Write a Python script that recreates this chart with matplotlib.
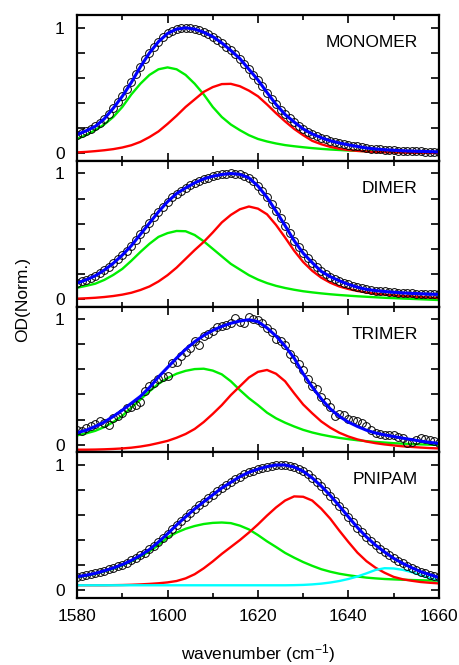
import matplotlib
matplotlib.use("Agg")
import matplotlib.pyplot as plt
import numpy as np
from matplotlib.ticker import MultipleLocator, FuncFormatter

plt.rcParams['font.family'] = ['Liberation Sans', 'DejaVu Sans']
plt.rcParams['font.size'] = 12.5
plt.rcParams['mathtext.default'] = 'regular'

# measured points every 1 cm-1, fit and components every 2 cm-1
wn_data = np.arange(1580, 1661, 1)
wn_fit = np.arange(1580, 1661, 2)

monomer_data = [0.15, 0.165, 0.18, 0.197, 0.215, 0.243, 0.275, 0.316, 0.36, 0.407,
                0.455, 0.51, 0.565, 0.63, 0.69, 0.748, 0.80, 0.848, 0.89, 0.925,
                0.955, 0.975, 0.99, 0.997, 1.0, 0.997, 0.99, 0.979, 0.965, 0.948,
                0.93, 0.906, 0.88, 0.851, 0.82, 0.789, 0.755, 0.714, 0.67, 0.628,
                0.585, 0.535, 0.485, 0.436, 0.39, 0.348, 0.31, 0.278, 0.25, 0.221,
                0.195, 0.174, 0.155, 0.139, 0.125, 0.112, 0.10, 0.091, 0.083, 0.075,
                0.068, 0.061, 0.055, 0.049, 0.043, 0.039, 0.035, 0.032, 0.029, 0.027,
                0.025, 0.023, 0.021, 0.019, 0.018, 0.017, 0.016, 0.015, 0.014, 0.013,
                0.012]
monomer_fit = [0.15, 0.18, 0.215, 0.275, 0.36, 0.455, 0.565, 0.69, 0.80, 0.89,
               0.955, 0.99, 1.0, 0.99, 0.965, 0.93, 0.88, 0.82, 0.755, 0.67,
               0.585, 0.485, 0.39, 0.31, 0.25, 0.195, 0.155, 0.125, 0.10, 0.083,
               0.068, 0.055, 0.043, 0.035, 0.029, 0.025, 0.021, 0.018, 0.016, 0.014,
               0.012]
monomer_green = [0.115, 0.145, 0.185, 0.23, 0.29, 0.37, 0.47, 0.555, 0.625, 0.67,
                 0.685, 0.67, 0.625, 0.555, 0.47, 0.37, 0.29, 0.23, 0.185, 0.145,
                 0.115, 0.095, 0.079, 0.066, 0.057, 0.049, 0.042, 0.036, 0.031, 0.027,
                 0.023, 0.02, 0.018, 0.016, 0.014, 0.013, 0.012, 0.011, 0.01, 0.009,
                 0.008]
monomer_red = [0.008, 0.012, 0.018, 0.025, 0.034, 0.047, 0.065, 0.092, 0.13, 0.175,
               0.235, 0.30, 0.37, 0.43, 0.49, 0.528, 0.552, 0.554, 0.535, 0.50,
               0.455, 0.39, 0.32, 0.255, 0.195, 0.145, 0.10, 0.073, 0.052, 0.037,
               0.027, 0.02, 0.015, 0.011, 0.009, 0.007, 0.006, 0.005, 0.004, 0.004,
               0.003]

dimer_data = [0.127, 0.14, 0.153, 0.168, 0.185, 0.206, 0.23, 0.256, 0.285, 0.316,
              0.35, 0.386, 0.425, 0.469, 0.515, 0.56, 0.605, 0.65, 0.695, 0.737,
              0.775, 0.81, 0.84, 0.863, 0.885, 0.906, 0.925, 0.942, 0.957, 0.968,
              0.978, 0.986, 0.992, 0.997, 1.0, 0.998, 0.993, 0.981, 0.965, 0.937,
              0.90, 0.857, 0.81, 0.757, 0.70, 0.643, 0.585, 0.524, 0.465, 0.413,
              0.365, 0.326, 0.29, 0.254, 0.22, 0.198, 0.178, 0.161, 0.145, 0.131,
              0.117, 0.105, 0.094, 0.085, 0.077, 0.072, 0.067, 0.063, 0.06, 0.057,
              0.054, 0.051, 0.049, 0.047, 0.045, 0.043, 0.042, 0.04, 0.039, 0.038,
              0.037]
dimer_fit = [0.127, 0.153, 0.185, 0.23, 0.285, 0.35, 0.425, 0.515, 0.605, 0.695,
             0.775, 0.84, 0.885, 0.925, 0.957, 0.978, 0.992, 1.0, 0.993, 0.965,
             0.90, 0.81, 0.70, 0.585, 0.465, 0.365, 0.29, 0.22, 0.178, 0.145,
             0.117, 0.094, 0.077, 0.067, 0.06, 0.054, 0.049, 0.045, 0.042, 0.039,
             0.037]
dimer_green = [0.09, 0.105, 0.122, 0.152, 0.192, 0.24, 0.305, 0.375, 0.44, 0.495,
               0.525, 0.542, 0.54, 0.51, 0.46, 0.40, 0.34, 0.28, 0.235, 0.19,
               0.155, 0.127, 0.105, 0.088, 0.074, 0.062, 0.053, 0.045, 0.038, 0.032,
               0.027, 0.022, 0.018, 0.014, 0.01, 0.007, 0.004, 0.001, -0.002, -0.005,
               -0.008]
dimer_red = [0.003, 0.006, 0.01, 0.016, 0.024, 0.035, 0.05, 0.072, 0.10, 0.14,
             0.19, 0.25, 0.32, 0.39, 0.455, 0.53, 0.61, 0.67, 0.715, 0.737,
             0.72, 0.675, 0.59, 0.49, 0.385, 0.295, 0.225, 0.17, 0.13, 0.10,
             0.08, 0.064, 0.052, 0.042, 0.035, 0.029, 0.024, 0.02, 0.016, 0.012,
             0.008]

trimer_data = [0.118, 0.112, 0.13, 0.145, 0.163, 0.19, 0.172, 0.153, 0.21, 0.225,
               0.25, 0.295, 0.30, 0.318, 0.342, 0.426, 0.469, 0.49, 0.52, 0.54,
               0.55, 0.653, 0.658, 0.71, 0.74, 0.77, 0.829, 0.795, 0.863, 0.88,
               0.905, 0.934, 0.947, 0.955, 0.968, 1.008, 0.98, 0.97, 1.015, 1.0,
               0.995, 0.968, 0.93, 0.895, 0.842, 0.829, 0.79, 0.72, 0.684, 0.645,
               0.592, 0.526, 0.47, 0.447, 0.382, 0.34, 0.30, 0.232, 0.242, 0.237,
               0.205, 0.197, 0.185, 0.171, 0.145, 0.118, 0.092, 0.085, 0.079, 0.079,
               0.074, 0.065, 0.05, 0.013, 0.02, 0.04, 0.053, 0.045, 0.04, 0.032,
               0.013]
trimer_fit = [0.095, 0.115, 0.145, 0.18, 0.225, 0.275, 0.33, 0.385, 0.455, 0.54,
              0.615, 0.69, 0.76, 0.82, 0.87, 0.91, 0.942, 0.967, 0.985, 0.995,
              0.98, 0.93, 0.865, 0.785, 0.69, 0.565, 0.46, 0.365, 0.285, 0.225,
              0.18, 0.145, 0.115, 0.093, 0.078, 0.065, 0.052, 0.04, 0.028, 0.018,
              0.01]
trimer_green = [0.074, 0.09, 0.11, 0.14, 0.18, 0.23, 0.295, 0.36, 0.425, 0.485,
                0.53, 0.565, 0.588, 0.602, 0.605, 0.59, 0.56, 0.505, 0.435, 0.37,
                0.315, 0.255, 0.21, 0.175, 0.145, 0.118, 0.097, 0.08, 0.066, 0.054,
                0.044, 0.035, 0.028, 0.022, 0.017, 0.012, 0.008, 0.005, 0.002, 0.0,
                -0.002]
trimer_red = [-0.04, -0.04, -0.039, -0.037, -0.034, -0.03, -0.024, -0.015, -0.003, 0.013,
              0.03, 0.055, 0.085, 0.125, 0.18, 0.245, 0.315, 0.395, 0.465, 0.535,
              0.58, 0.595, 0.565, 0.505, 0.41, 0.32, 0.25, 0.185, 0.135, 0.095,
              0.065, 0.042, 0.025, 0.012, 0.002, -0.006, -0.013, -0.018, -0.023, -0.027,
              -0.03]

pnipam_data = [0.108, 0.114, 0.12, 0.127, 0.135, 0.145, 0.155, 0.166, 0.178, 0.191,
               0.205, 0.221, 0.238, 0.257, 0.278, 0.30, 0.325, 0.354, 0.385, 0.417,
               0.45, 0.485, 0.52, 0.553, 0.585, 0.617, 0.648, 0.677, 0.705, 0.733,
               0.76, 0.788, 0.815, 0.838, 0.86, 0.883, 0.905, 0.923, 0.94, 0.953,
               0.965, 0.976, 0.985, 0.993, 0.998, 1.0, 0.998, 0.992, 0.982, 0.967,
               0.948, 0.923, 0.895, 0.863, 0.83, 0.793, 0.755, 0.714, 0.672, 0.629,
               0.585, 0.542, 0.50, 0.462, 0.425, 0.392, 0.36, 0.332, 0.305, 0.279,
               0.255, 0.235, 0.215, 0.197, 0.18, 0.164, 0.148, 0.136, 0.125, 0.113,
               0.102]
pnipam_fit = [0.108, 0.12, 0.135, 0.155, 0.178, 0.205, 0.238, 0.278, 0.325, 0.385,
              0.45, 0.52, 0.585, 0.648, 0.705, 0.76, 0.815, 0.86, 0.905, 0.94,
              0.965, 0.985, 0.998, 0.998, 0.982, 0.948, 0.895, 0.83, 0.755, 0.672,
              0.585, 0.50, 0.425, 0.36, 0.305, 0.255, 0.215, 0.18, 0.148, 0.125,
              0.102]
pnipam_green = [0.105, 0.116, 0.13, 0.15, 0.172, 0.198, 0.23, 0.268, 0.31, 0.36,
                0.42, 0.46, 0.49, 0.512, 0.528, 0.537, 0.54, 0.535, 0.515, 0.485,
                0.44, 0.39, 0.345, 0.298, 0.26, 0.225, 0.195, 0.168, 0.148, 0.132,
                0.12, 0.11, 0.101, 0.095, 0.09, 0.087, 0.084, 0.082, 0.08, 0.078,
                0.076]
pnipam_red = [0.04, 0.04, 0.04, 0.04, 0.041, 0.042, 0.044, 0.047, 0.051, 0.056,
              0.063, 0.074, 0.095, 0.128, 0.175, 0.23, 0.29, 0.345, 0.40, 0.46,
              0.525, 0.595, 0.66, 0.715, 0.748, 0.745, 0.715, 0.65, 0.57, 0.475,
              0.385, 0.30, 0.232, 0.18, 0.14, 0.107, 0.088, 0.076, 0.066, 0.06,
              0.055]
pnipam_cyan = [0.04, 0.04, 0.04, 0.04, 0.04, 0.04, 0.04, 0.04, 0.04, 0.04,
               0.04, 0.04, 0.04, 0.04, 0.04, 0.04, 0.04, 0.04, 0.04, 0.04,
               0.04, 0.04, 0.04, 0.04, 0.041, 0.043, 0.047, 0.053, 0.062, 0.074,
               0.09, 0.11, 0.135, 0.162, 0.176, 0.174, 0.163, 0.145, 0.12, 0.097,
               0.076]

GREEN = '#00ee00'
RED = '#ff0000'
CYAN = '#00ffff'
BLUE = '#0000ff'

panels = [
    ('MONOMER', monomer_data, monomer_fit, [(monomer_green, GREEN), (monomer_red, RED)]),
    ('DIMER', dimer_data, dimer_fit, [(dimer_green, GREEN), (dimer_red, RED)]),
    ('TRIMER', trimer_data, trimer_fit, [(trimer_green, GREEN), (trimer_red, RED)]),
    ('PNIPAM', pnipam_data, pnipam_fit, [(pnipam_green, GREEN), (pnipam_red, RED),
                                         (pnipam_cyan, CYAN)]),
]


def zero_one(v, pos):
    if abs(v) < 1e-6:
        return '0'
    if abs(v - 1) < 1e-6:
        return '1'
    return ''


fig, axes = plt.subplots(4, 1, sharex=True, figsize=(4.59, 6.65), dpi=100)
fig.subplots_adjust(left=0.168, right=0.956, top=0.977, bottom=0.101, hspace=0)

for ax, (name, data, fit, components) in zip(axes, panels):
    for values, color in components:
        ax.plot(wn_fit, values, color=color, lw=1.7)
    ax.plot(wn_data, data, 'o', mfc='none', mec='black', mew=0.7, ms=5.6)
    ax.plot(wn_fit, fit, color=BLUE, lw=2.2)
    ax.text(0.942, 0.81, name, transform=ax.transAxes, ha='right', va='center')

    ax.set_xlim(1580, 1660)
    ax.set_ylim(-0.06, 1.1)
    ax.xaxis.set_major_locator(MultipleLocator(20))
    ax.xaxis.set_minor_locator(MultipleLocator(10))
    ax.yaxis.set_major_locator(MultipleLocator(0.2))
    ax.yaxis.set_major_formatter(FuncFormatter(zero_one))
    ax.tick_params(which='both', direction='in', top=True, right=True, width=1.2)
    ax.tick_params(axis='x', which='major', length=6, pad=8)
    ax.tick_params(axis='x', which='minor', length=3.5)
    ax.tick_params(axis='y', which='major', length=5.5, pad=9)
    for spine in ax.spines.values():
        spine.set_linewidth(1.6)

axes[-1].set_xlabel('wavenumber (cm$^{-1}$)')
axes[-1].xaxis.set_label_coords(0.5, -0.305)
fig.text(23 / 459, 1 - 300 / 665, 'OD(Norm.)', rotation=90, ha='center', va='center')

plt.savefig('out.png', dpi=100)
